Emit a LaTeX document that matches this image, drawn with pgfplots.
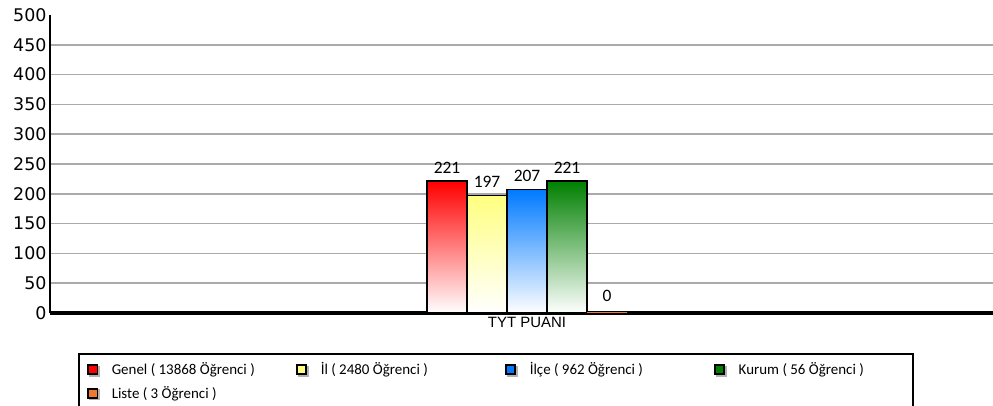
\documentclass[border=0pt]{standalone}
\usepackage{fontspec}
\setmainfont{Carlito}
\newfontfamily\arialf{Liberation Sans}
\newfontfamily\verd{DejaVu Sans}
\usepackage{pgfplots}
\pgfplotsset{compat=1.18}
\definecolor{cred}{RGB}{255,0,0}
\definecolor{cyel}{RGB}{255,255,128}
\definecolor{cblue}{RGB}{0,122,255}
\definecolor{cgreen}{RGB}{0,128,0}
\definecolor{corange}{RGB}{240,120,50}
\definecolor{gridgray}{RGB}{170,170,170}
\newcommand{\legsq}[1]{%
  \pgfsetfillcolor{black!30}\pgfpathrectangle{\pgfpoint{1.5bp}{-7bp}}{\pgfpoint{11bp}{11bp}}\pgfusepath{fill}%
  \pgfsetfillcolor{black}\pgfpathrectangle{\pgfpoint{-0.5bp}{-5.5bp}}{\pgfpoint{11.5bp}{11bp}}\pgfusepath{fill}%
  \pgfsetfillcolor{#1}\pgfpathrectangle{\pgfpoint{1.3bp}{-3.7bp}}{\pgfpoint{7.9bp}{7.4bp}}\pgfusepath{fill}}
\begin{document}
\begin{tikzpicture}
\useasboundingbox (0,0) rectangle (993bp,406bp);
\begin{axis}[
  at={(50bp,93bp)}, anchor=south west,
  scale only axis, width=943bp, height=298bp,
  xmin=-477, xmax=466, ymin=0, ymax=500,
  axis x line=bottom, axis y line=left,
  axis line style={line width=2.6bp,-},
  x axis line style={line width=3bp,-},
  ytick={50,100,...,450},
  extra y ticks={0,500},
  extra y tick style={grid=none},
  ymajorgrids,
  major grid style={gridgray, line width=1.6bp},
  major tick length=0pt,
  /pgf/number format/assume math mode=true,
  yticklabel style={font=\verd\fontsize{17.5}{17.5}\selectfont, xshift=0bp},
  xtick={0}, xticklabels={TYT PUANI},
  xticklabel style={font=\arialf\fontsize{15}{15}\selectfont, yshift=-1bp},
  ybar=0pt, bar width=40,
  nodes near coords,
  nodes near coords style={font=\fontsize{17.5}{17.5}\selectfont, color=black, inner sep=2bp, yshift=5bp},
  legend columns=4,
  legend cell align=left,
  legend style={at={(28bp,-40bp)}, anchor=north west, draw=black, line width=1.6bp,
    font=\fontsize{15}{15}\selectfont, inner xsep=8bp, inner ysep=7bp, row sep=6bp,
    /tikz/every odd column/.append style={column sep=10bp},
    /tikz/every even column/.append style={column sep=4bp}},
]
\addplot[draw=black, line width=1.6bp, top color=cred, bottom color=white,
  legend image code/.code={\legsq{cred}}] coordinates {(0,221)};
\addlegendentry{\makebox[178bp][l]{Genel ( 13868 Öğrenci )}}
\addplot[draw=black, line width=1.6bp, top color=cyel, bottom color=white,
  legend image code/.code={\legsq{cyel}}] coordinates {(0,197)};
\addlegendentry{\makebox[178bp][l]{İl ( 2480 Öğrenci )}}
\addplot[draw=black, line width=1.6bp, top color=cblue, bottom color=white,
  legend image code/.code={\legsq{cblue}}] coordinates {(0,207)};
\addlegendentry{\makebox[178bp][l]{İlçe ( 962 Öğrenci )}}
\addplot[draw=black, line width=1.6bp, top color=cgreen, bottom color=white,
  legend image code/.code={\legsq{cgreen}}] coordinates {(0,221)};
\addlegendentry{\makebox[164bp][l]{Kurum ( 56 Öğrenci )}}
\addplot[draw=corange, line width=1.8bp, fill=none,
  nodes near coords style={yshift=3bp},
  legend image code/.code={\legsq{corange}}] coordinates {(0,0)};
\addlegendentry{\makebox[178bp][l]{Liste ( 3 Öğrenci )}}
\end{axis}
\end{tikzpicture}
\end{document}
